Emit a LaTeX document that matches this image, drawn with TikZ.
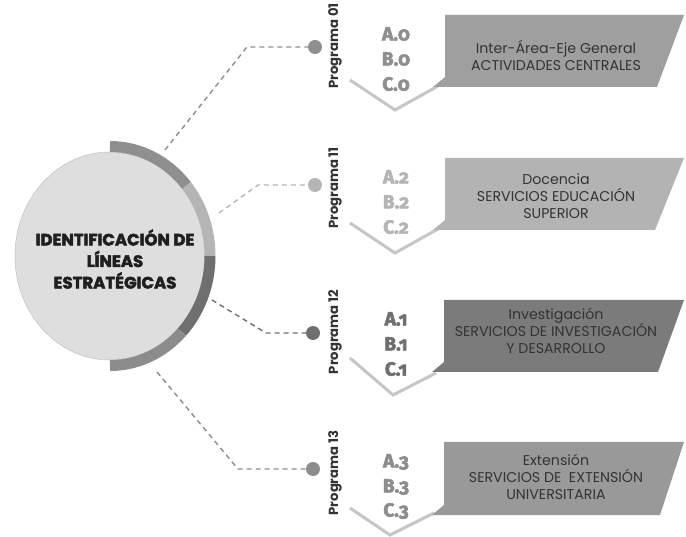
\documentclass[tikz,border=0pt]{standalone}
\usepackage{fontspec}
\setmainfont{Poppins}
\newfontfamily\letfont[Numbers=OldStyle, FakeBold=3]{Fira Sans}
\newfontfamily\titlefont[FakeBold=3]{Poppins}
\usetikzlibrary{shapes.geometric}
\definecolor{cTop}{HTML}{8F8F8F}
\definecolor{cLight}{HTML}{B5B5B5}
\definecolor{cDark}{HTML}{6F6F6F}
\definecolor{cBot}{HTML}{8C8C8C}
\definecolor{bOne}{HTML}{9F9F9F}
\definecolor{bTwo}{HTML}{B3B3B3}
\definecolor{bThree}{HTML}{7B7B7B}
\definecolor{bFour}{HTML}{999999}
\definecolor{circfill}{HTML}{DEDEDE}
\definecolor{chev}{HTML}{C6C6C6}
\definecolor{txt}{HTML}{333333}
\tikzset{
  dotnode/.style={circle, fill=#1, minimum size=14pt, inner sep=0pt},
  conn/.style={draw=#1, line width=1.4pt, dash pattern=on 5pt off 4pt},
  prog/.style={rotate=90, text=txt, font=\bfseries\fontsize{13.2}{13.2}\selectfont},
  letter/.style={text=#1, font=\letfont\bfseries\fontsize{19}{19}\selectfont},
  boxtext/.style={align=center, text=txt, font=\fontsize{14.2}{17}\selectfont},
  chevline/.style={draw=chev, line width=3pt, line join=miter},
  ring/.style={line width=11pt, draw=#1},
}
\begin{document}
\begin{tikzpicture}[x=1pt,y=-1pt]
\useasboundingbox (0,0) rectangle (686,537);
\fill[white] (0,0) rectangle (686,537);

% central circle
\node[ellipse, fill=circfill, draw=black!22, line width=0.6pt, minimum width=190pt, minimum height=208pt, inner sep=0pt] (C) at (110,256) {};
\draw[ring=cTop] (110,256) ++(-90:100 and 109.5) arc[start angle=-90, end angle=-40, x radius=100, y radius=109.5];
\draw[ring=cLight] (110,256) ++(-40:100 and 109.5) arc[start angle=-40, end angle=0, x radius=100, y radius=109.5];
\draw[ring=cDark] (110,256) ++(0:100 and 109.5) arc[start angle=0, end angle=44, x radius=100, y radius=109.5];
\draw[ring=cBot] (110,256) ++(44:100 and 109.5) arc[start angle=44, end angle=90, x radius=100, y radius=109.5];
\node[align=center, text=black!88, font=\titlefont\bfseries\fontsize{16.5}{21.5}\selectfont] (title) at (115,259) {IDENTIFICACIÓN DE\\LÍNEAS\\ESTRATÉGICAS};

% connector end points
\coordinate (s1) at (165,150); \coordinate (k1) at (247,47);
\coordinate (s2) at (219,213); \coordinate (k2) at (258,185);
\coordinate (s3) at (212,300); \coordinate (k3) at (266,333);
\coordinate (s4) at (157,372); \coordinate (k4) at (238,469);

\node[dotnode=cTop] (d1) at (315,47) {};
\node[dotnode=cLight] (d2) at (315,185) {};
\node[dotnode=cDark] (d3) at (313,333) {};
\node[dotnode=cBot] (d4) at (313,469) {};

\draw[conn=cTop] (s1) -- (k1) -- (d1);
\draw[conn=cLight] (s2) -- (k2) -- (d2);
\draw[conn=cDark] (s3) -- (k3) -- (d3);
\draw[conn=cBot] (s4) -- (k4) -- (d4);

% program labels
\node[prog] (p1) at (335,46) {Programa 01};
\node[prog] (p2) at (335,188) {Programa 11};
\node[prog] (p3) at (335,332) {Programa 12};
\node[prog] (p4) at (335,473) {Programa 13};

% section 1 (T=15)
\draw[chevline] (350,80) -- (395,110) -- (438,86);
\fill[bOne] (445,15) -- (684,15) -- (657,87) -- (433,87) -- (445,77) -- cycle;
\node[letter=cTop] (a1) at (396,34) {A.0};
\node[letter=cTop] (b1) at (396,59) {B.0};
\node[letter=cTop] (c1) at (396,84) {C.0};
\node[boxtext] (t1) at (556,55) {Inter-Área-Eje General\\ACTIVIDADES CENTRALES};

% section 2 (T=158)
\draw[chevline] (350,223) -- (395,253) -- (438,229);
\fill[bTwo] (445,158) -- (684,158) -- (655,230) -- (433,230) -- (445,220) -- cycle;
\node[letter=cLight] (a2) at (396,177) {A.2};
\node[letter=cLight] (b2) at (396,202) {B.2};
\node[letter=cLight] (c2) at (396,227) {C.2};
\node[boxtext] (t2) at (556,196) {Docencia\\SERVICIOS EDUCACIÓN\\SUPERIOR};

% section 3 (T=300)
\draw[chevline] (350,358) -- (393,395) -- (436,373);
\fill[bThree] (444,300) -- (684,300) -- (658,372) -- (432,372) -- (444,362) -- cycle;
\node[letter=cDark] (a3) at (396,319) {A.1};
\node[letter=cDark] (b3) at (396,344) {B.1};
\node[letter=cDark] (c3) at (396,369) {C.1};
\node[boxtext] (t3) at (556,331) {Investigación\\SERVICIOS DE INVESTIGACIÓN\\Y DESARROLLO};

% section 4 (T=442)
\draw[chevline] (350,508) -- (390,535) -- (434,513);
\fill[bFour] (444,442) -- (684,442) -- (660,515) -- (432,515) -- (444,505) -- cycle;
\node[letter=cBot] (a4) at (396,462) {A.3};
\node[letter=cBot] (b4) at (396,487) {B.3};
\node[letter=cBot] (c4) at (396,511) {C.3};
\node[boxtext] (t4) at (556,477) {Extensión\\SERVICIOS DE\ \ EXTENSIÓN\\UNIVERSITARIA};
\end{tikzpicture}
\end{document}
